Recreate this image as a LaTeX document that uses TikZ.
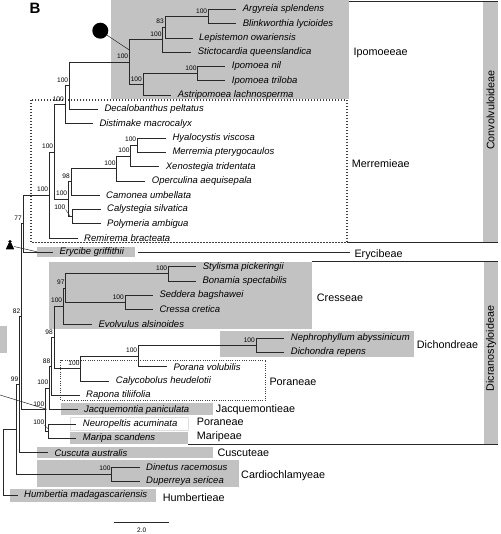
\documentclass[tikz,border=0pt]{standalone}
\usepackage{fontspec}
\setmainfont{Liberation Sans}
\definecolor{boxgray}{RGB}{194,194,194}
\definecolor{linegray}{RGB}{40,40,40}
\tikzset{
  leaf/.style={anchor=west, inner xsep=6.5pt, inner ysep=1pt, font=\fontsize{9.5}{11}\selectfont\itshape},
  bs/.style={anchor=south east, inner sep=0pt, font=\fontsize{6.6}{7}\selectfont},
  tribe/.style={anchor=west, inner sep=0pt, font=\fontsize{10.8}{12}\selectfont},
  br/.style={line width=0.75pt, draw=linegray},
  gbox/.style={fill=boxgray, draw=none},
  frame/.style={line width=0.8pt, draw=linegray},
  bigdots/.style={line width=1.3pt, draw=black!75, dash pattern=on 1.3pt off 1.7pt},
  smalldots/.style={line width=0.9pt, draw=black!75, dash pattern=on 0.9pt off 1.4pt},
}
\newcommand\bsl[2]{\node[bs] (b#1) at ([xshift=-1pt,yshift=3pt]#1) {#2};}
\begin{document}
\begin{tikzpicture}[x=1pt,y=-1pt]
\useasboundingbox (0,0) rectangle (500,534);
% ---------- background boxes ----------
\fill[boxgray] (111,0) rectangle (349,99.5);        % Ipomoeeae
\fill[boxgray] (36.7,246.7) rectangle (135,257.3);  % Erycibe
\fill[boxgray] (49.3,261.7) rectangle (311.7,329);  % Cresseae
\fill[boxgray] (220,331) rectangle (414,357.3);     % Dichondreae
\fill[boxgray] (61,403.3) rectangle (212.5,415);    % Jacquemontia
\draw[gray!25, fill=white] (70,416.7) rectangle (187.7,430); % Neuropeltis
\fill[boxgray] (70,431.7) rectangle (187.7,444);    % Maripa
\fill[boxgray] (36.7,447.3) rectangle (212.5,457.7);% Cuscuta
\fill[boxgray] (36.7,460) rectangle (239,486.7);    % Cardiochlamyeae
\fill[boxgray] (10,489.3) rectangle (156,502.3);    % Humbertia
\fill[boxgray] (0,326) rectangle (6.7,352.7);       % edge box
\fill[boxgray] (483,1) rectangle (498,242.7);       % Convolvuloideae strip
\fill[boxgray] (484,261.7) rectangle (498,444);     % Dicranostyloideae strip
% ---------- frames ----------
\draw[bigdots] (31,100) rectangle (347,242.7);      % Merremieae
\draw[smalldots] (60.7,360) rectangle (265.7,400);  % Poraneae
\draw[frame] (349,1.2) -- (498,1.2);
\draw[frame] (347,242.7) -- (498,242.7);
\draw[frame] (138,252.7) -- (350,252.7);
\draw[frame] (311.7,261.7) -- (498,261.7);
\draw[frame] (188,444) -- (498,444);
% ---------- leaves ----------
\node[leaf] (L1) at (236.2,9.3) {Argyreia splendens};
\node[leaf] (L2) at (236.2,23.6) {Blinkworthia lycioides};
\node[leaf] (L3) at (192.5,37.9) {Lepistemon owariensis};
\node[leaf] (L4) at (191.2,52.2) {Stictocardia queenslandica};
\node[leaf] (L5) at (225.2,66.5) {Ipomoea nil};
\node[leaf] (L6) at (225.2,80.8) {Ipomoea triloba};
\node[leaf] (L7) at (171.2,95.1) {Astripomoea lachnosperma};
\node[leaf] (L8) at (97.8,109.4) {Decalobanthus peltatus};
\node[leaf] (L9) at (92.8,123.7) {Distimake macrocalyx};
\node[leaf] (L10) at (165.8,138) {Hyalocystis viscosa};
\node[leaf] (L11) at (165.8,152.3) {Merremia pterygocaulos};
\node[leaf] (L12) at (159.2,166.6) {Xenostegia tridentata};
\node[leaf] (L13) at (145.2,180.9) {Operculina aequisepala};
\node[leaf] (L14) at (99.5,195.2) {Camonea umbellata};
\node[leaf] (L15) at (100.5,209.5) {Calystegia silvatica};
\node[leaf] (L16) at (100.5,223.8) {Polymeria ambigua};
\node[leaf] (L17) at (77.5,238.1) {Remirema bracteata};
\node[leaf] (L18) at (52.8,252.4) {Erycibe griffithii};
\node[leaf] (L19) at (196.2,266.7) {Stylisma pickeringii};
\node[leaf] (L20) at (195.8,281) {Bonamia spectabilis};
\node[leaf] (L21) at (152.8,295.3) {Seddera bagshawei};
\node[leaf] (L22) at (152.8,309.6) {Cressa cretica};
\node[leaf] (L23) at (91.8,323.9) {Evolvulus alsinoides};
\node[leaf] (L24) at (284.2,338.2) {Nephrophyllum abyssinicum};
\node[leaf] (L25) at (284.2,352.5) {Dichondra repens};
\node[leaf] (L26) at (166.8,366.8) {Porana volubilis};
\node[leaf] (L27) at (109.2,381.1) {Calycobolus heudelotii};
\node[leaf] (L28) at (79.5,395.4) {Rapona tiliifolia};
\node[leaf] (L29) at (77.5,409.7) {Jacquemontia paniculata};
\node[leaf] (L30) at (76.2,424) {Neuropeltis acuminata};
\node[leaf] (L31) at (76.2,438.3) {Maripa scandens};
\node[leaf] (L32) at (47.8,452.6) {Cuscuta australis};
\node[leaf] (L33) at (139.5,466.9) {Dinetus racemosus};
\node[leaf] (L34) at (139.5,481.2) {Duperreya sericea};
\node[leaf] (L35) at (17.5,495.5) {Humbertia madagascariensis};
% ---------- internal nodes ----------
\coordinate (nAB) at (208.3,16.45);
\coordinate (n83) at (165,27.2);
\coordinate (nS) at (162.7,39.7);
\coordinate (nIpo) at (197.7,73.65);
\coordinate (nIpoA) at (143,84.4);
\coordinate (nIpom) at (129.3,62.05);
\coordinate (nDec) at (69.3,85.7);
\coordinate (nDist) at (65,104.7);
\coordinate (nHM) at (137.3,145.15);
\coordinate (nX) at (130.7,155.9);
\coordinate (nO) at (116.7,168.4);
\coordinate (nC) at (71,181.8);
\coordinate (nCP) at (72.7,216.65);
\coordinate (nM) at (68.3,199.2);
\coordinate (nCore) at (54.3,152);
\coordinate (nConv) at (49.3,195);
\coordinate (n77) at (23,223.7);
\coordinate (nSB) at (168.3,273.85);
\coordinate (nSC) at (125,302.45);
\coordinate (n97) at (65.7,288.15);
\coordinate (nCres) at (63.3,306);
\coordinate (nDich) at (256,345.35);
\coordinate (nDP) at (138.3,356.1);
\coordinate (nDPC) at (80.7,368.6);
\coordinate (n98) at (54,337.3);
\coordinate (n88) at (51.5,366.35);
\coordinate (nJ) at (49.5,388);
\coordinate (nNM) at (48.3,431.15);
\coordinate (nDicr) at (45.5,409.6);
\coordinate (n82) at (21.5,316.65);
\coordinate (n99) at (19.5,384.6);
\coordinate (nDD) at (111.7,474.05);
\coordinate (nCC) at (16,429.3);
\coordinate (root) at (3.3,462.4);
% ---------- branches ----------
\draw[br] (nAB) |- (L1.west);  \draw[br] (nAB) |- (L2.west);
\draw[br] (n83) |- (nAB);      \draw[br] (n83) |- (L3.west);
\draw[br] (nS) |- (n83);       \draw[br] (nS) |- (L4.west);
\draw[br] (nIpo) |- (L5.west); \draw[br] (nIpo) |- (L6.west);
\draw[br] (nIpoA) |- (nIpo);   \draw[br] (nIpoA) |- (L7.west);
\draw[br] (nIpom) |- (nS);     \draw[br] (nIpom) |- (nIpoA);
\draw[br] (nDec) |- (nIpom);   \draw[br] (nDec) |- (L8.west);
\draw[br] (nDist) |- (nDec);   \draw[br] (nDist) |- (L9.west);
\draw[br] (nHM) |- (L10.west); \draw[br] (nHM) |- (L11.west);
\draw[br] (nX) |- (nHM);       \draw[br] (nX) |- (L12.west);
\draw[br] (nO) |- (nX);        \draw[br] (nO) |- (L13.west);
\draw[br] (nC) |- (nO);        \draw[br] (nC) |- (L14.west);
\draw[br] (nCP) |- (L15.west); \draw[br] (nCP) |- (L16.west);
\draw[br] (nM) |- (nC);        \draw[br] (nM) |- (nCP);
\draw[br] (nCore) |- (nDist);  \draw[br] (nCore) |- (nM);
\draw[br] (nConv) |- (nCore);  \draw[br] (nConv) |- (L17.west);
\draw[br] (n77) |- (nConv);    \draw[br] (n77) |- (L18.west);
\draw[br] (nSB) |- (L19.west); \draw[br] (nSB) |- (L20.west);
\draw[br] (nSC) |- (L21.west); \draw[br] (nSC) |- (L22.west);
\draw[br] (n97) |- (nSB);      \draw[br] (n97) |- (nSC);
\draw[br] (nCres) |- (n97);    \draw[br] (nCres) |- (L23.west);
\draw[br] (nDich) |- (L24.west); \draw[br] (nDich) |- (L25.west);
\draw[br] (nDP) |- (nDich);    \draw[br] (nDP) |- (L26.west);
\draw[br] (nDPC) |- (nDP);     \draw[br] (nDPC) |- (L27.west);
\draw[br] (n98) |- (nCres);    \draw[br] (n98) |- (nDPC);
\draw[br] (n88) |- (n98);      \draw[br] (n88) |- (L28.west);
\draw[br] (nJ) |- (n88);       \draw[br] (nJ) |- (L29.west);
\draw[br] (nNM) |- (L30.west); \draw[br] (nNM) |- (L31.west);
\draw[br] (nDicr) |- (nJ);     \draw[br] (nDicr) |- (nNM);
\draw[br] (n82) |- (n77);      \draw[br] (n82) |- (nDicr);
\draw[br] (n99) |- (n82);      \draw[br] (n99) |- (L32.west);
\draw[br] (nDD) |- (L33.west); \draw[br] (nDD) |- (L34.west);
\draw[br] (nCC) |- (n99);      \draw[br] (nCC) |- (nDD);
\draw[br] (root) |- (nCC);     \draw[br] (root) |- (L35.west);
% ---------- support values ----------
\bsl{nAB}{100} \bsl{n83}{83} \bsl{nS}{100} \bsl{nIpo}{100} \bsl{nIpoA}{100}
\bsl{nIpom}{100} \bsl{nDec}{100} \bsl{nDist}{100}
\bsl{nHM}{100} \bsl{nX}{100} \bsl{nO}{100} \bsl{nC}{98} \bsl{nM}{100}
\bsl{nCore}{100} \bsl{nConv}{100} \bsl{n77}{77}
\bsl{nSB}{100} \bsl{nSC}{100} \bsl{n97}{97} \bsl{nCres}{100}
\bsl{nDich}{100} \bsl{nDP}{100} \bsl{nDPC}{100} \bsl{n98}{98} \bsl{n88}{88}
\bsl{nJ}{100} \bsl{nDicr}{100} \bsl{n82}{82} \bsl{n99}{99} \bsl{nDD}{100}
\node[bs] (bnCP) at (65.5,209.5) {100};
\coordinate (cpTip) at (70.5,216.65);
\draw[linegray, line width=0.4pt] (bnCP.south east) -- (cpTip);
\node[bs] (bnNM) at (44.5,425) {100};
\coordinate (nmTip) at (48.3,429);
\draw[linegray, line width=0.4pt] (bnNM.south east) -- (nmTip);
% ---------- markers ----------
\node[circle, fill=black, minimum size=16pt, inner sep=0pt] (dot) at (100.3,30.7) {};
\coordinate (dotTip) at (129.3,50);
\draw[linegray, line width=0.5pt] (dot) -- (dotTip);
\fill[black] (5.8,249.3) -- (8.6,243.2) -- (11.4,243.2) -- (14.2,249.3) -- cycle;
\node[circle, fill=black, minimum size=3.6pt, inner sep=0pt] (cone) at (10,241.6) {};
\coordinate (coneBase) at (14,246.5);
\coordinate (coneTip) at (37,251.8);
\draw[linegray, line width=0.5pt] (coneBase) -- (coneTip);
\coordinate (edgeA) at (0,395);
\coordinate (edgeB) at (46.7,409.3);
\draw[linegray, line width=0.5pt] (edgeA) -- (edgeB);
% ---------- labels ----------
\node[anchor=center, inner sep=0pt, font=\fontsize{15}{16}\selectfont\bfseries] (panel) at (35,8.5) {B};
\node[tribe] (t1) at (353.3,53.3) {Ipomoeeae};
\node[tribe] (t2) at (351.7,163.3) {Merremieae};
\node[tribe] (t3) at (354.3,254.3) {Erycibeae};
\node[tribe] (t4) at (316.7,297.3) {Cresseae};
\node[tribe] (t5) at (416.7,344.3) {Dichondreae};
\node[tribe] (t6) at (269.3,382.3) {Poraneae};
\node[tribe] (t7) at (215.7,410) {Jacquemontieae};
\node[tribe] (t8) at (196.7,422.3) {Poraneae};
\node[tribe] (t9) at (196.7,436.7) {Maripeae};
\node[tribe] (t10) at (217.3,452.7) {Cuscuteae};
\node[tribe] (t11) at (241,475.3) {Cardiochlamyeae};
\node[tribe] (t12) at (162.7,497.3) {Humbertieae};
\node[rotate=90, inner sep=0pt, font=\fontsize{10.8}{12}\selectfont] (s1) at (490.5,110) {Convolvuloideae};
\node[rotate=90, inner sep=0pt, font=\fontsize{10.8}{12}\selectfont] (s2) at (491,348.5) {Dicranostyloideae};
% ---------- scale bar ----------
\coordinate (sbA) at (114.3,522.3);
\coordinate (sbB) at (169.3,522.3);
\draw[linegray, line width=0.7pt] (sbA) -- (sbB);
\node[inner sep=0pt, font=\fontsize{6.5}{7}\selectfont] (sbl) at (141.7,530.7) {2.0};
\end{tikzpicture}
\end{document}
